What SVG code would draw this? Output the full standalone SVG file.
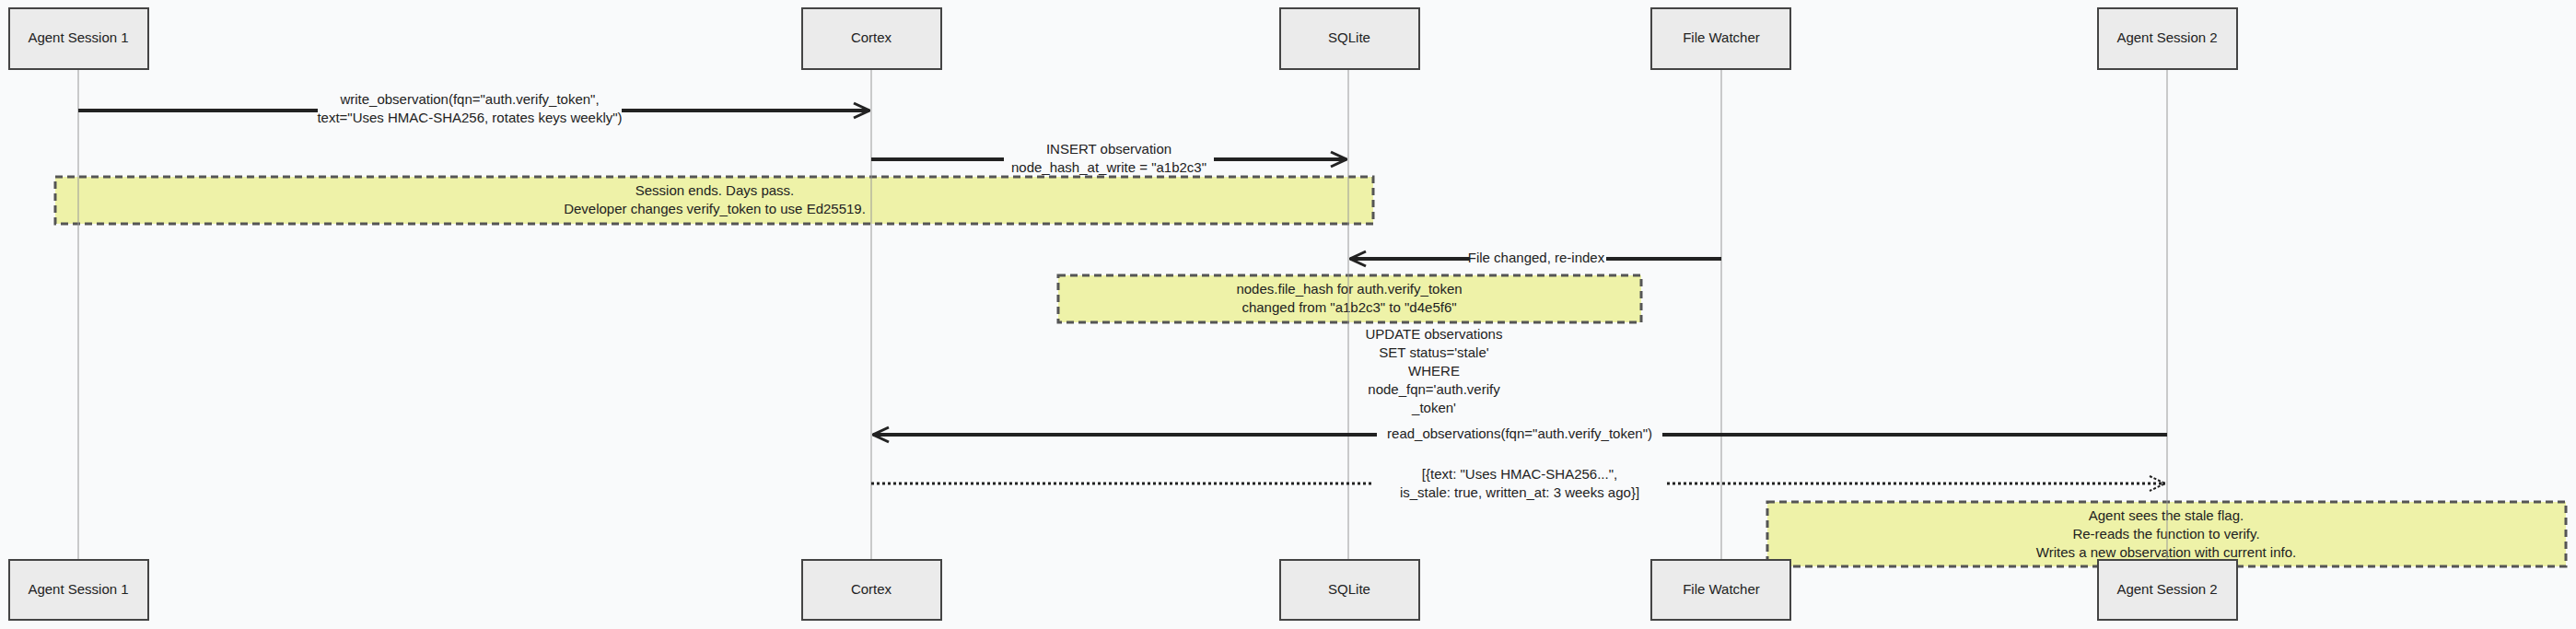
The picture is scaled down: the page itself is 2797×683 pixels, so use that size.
<svg xmlns="http://www.w3.org/2000/svg" width="2797" height="683" viewBox="0 0 2797 683">
<style>
text{font-family:"Liberation Sans",Arial,sans-serif;font-size:15px;fill:#222;text-anchor:middle;dominant-baseline:middle}
.box{fill:#ebebeb;stroke:#444;stroke-width:2}
.life{stroke:#999;stroke-width:1}
.msg{stroke:#222;stroke-width:4;fill:none}
.ret{stroke:#222;stroke-width:3;fill:none;stroke-dasharray:3 3}
.note{fill:#eef2a8;stroke:#555;stroke-width:3;stroke-dasharray:8 5}
.bg{fill:#f9fafb}
</style>
<defs>
<marker id="a" viewBox="0 0 20 20" refX="19" refY="10" markerWidth="20" markerHeight="20" markerUnits="userSpaceOnUse" orient="auto"><path d="M2 2 L19 10 L2 18" fill="none" stroke="#222" stroke-width="3"/></marker>
<marker id="o" viewBox="0 0 20 20" refX="19" refY="10" markerWidth="20" markerHeight="20" markerUnits="userSpaceOnUse" orient="auto"><path d="M2 2 L19 10 L2 18" fill="none" stroke="#222" stroke-width="2" stroke-dasharray="3 2"/></marker>
</defs>
<rect class="bg" width="2797" height="683"/>
<g id="note1"><rect class="note" x="60" y="192" width="1431" height="51"/><text x="776" y="208">Session ends. Days pass.</text><text x="776" y="228">Developer changes verify_token to use Ed25519.</text></g>
<g id="note2"><rect class="note" x="1149" y="299" width="633" height="51"/><text x="1465" y="315">nodes.file_hash for auth.verify_token</text><text x="1465" y="335">changed from "a1b2c3" to "d4e5f6"</text></g>
<g id="note3"><rect class="note" x="1919" y="545" width="867" height="70"/><text x="2352" y="561">Agent sees the stale flag.</text><text x="2352" y="581">Re-reads the function to verify.</text><text x="2352" y="601">Writes a new observation with current info.</text></g>
<g id="lifelines">
<line class="life" x1="85" y1="75" x2="85" y2="608"/>
<line class="life" x1="946" y1="75" x2="946" y2="608"/>
<line class="life" x1="1464" y1="75" x2="1464" y2="608"/>
<line class="life" x1="1869" y1="75" x2="1869" y2="608"/>
<line class="life" x1="2353" y1="75" x2="2353" y2="608"/>
</g>
<g id="agent1"><rect class="box" x="10" y="9" width="151" height="66"/><text x="85" y="42">Agent Session 1</text><rect class="box" x="10" y="608" width="151" height="65"/><text x="85" y="641">Agent Session 1</text></g>
<g id="cortex"><rect class="box" x="871" y="9" width="151" height="66"/><text x="946" y="42">Cortex</text><rect class="box" x="871" y="608" width="151" height="65"/><text x="946" y="641">Cortex</text></g>
<g id="sqlite"><rect class="box" x="1390" y="9" width="151" height="66"/><text x="1465" y="42">SQLite</text><rect class="box" x="1390" y="608" width="151" height="65"/><text x="1465" y="641">SQLite</text></g>
<g id="filewatcher"><rect class="box" x="1793" y="9" width="151" height="66"/><text x="1869" y="42">File Watcher</text><rect class="box" x="1793" y="608" width="151" height="65"/><text x="1869" y="641">File Watcher</text></g>
<g id="agent2"><rect class="box" x="2278" y="9" width="151" height="66"/><text x="2353" y="42">Agent Session 2</text><rect class="box" x="2278" y="608" width="151" height="65"/><text x="2353" y="641">Agent Session 2</text></g>
<g id="connectors">
<line class="msg" x1="85" y1="120" x2="345" y2="120"/><line class="msg" x1="675" y1="120" x2="944" y2="120" marker-end="url(#a)"/>
<text x="510" y="109">write_observation(fqn="auth.verify_token",</text>
<text x="510" y="129">text="Uses HMAC-SHA256, rotates keys weekly")</text>
<line class="msg" x1="946" y1="173" x2="1090" y2="173"/><line class="msg" x1="1318" y1="173" x2="1462" y2="173" marker-end="url(#a)"/>
<text x="1204" y="163">INSERT observation</text>
<text x="1204" y="183">node_hash_at_write = "a1b2c3"</text>
<line class="msg" x1="1869" y1="281" x2="1466" y2="281" marker-end="url(#a)"/>
<rect x="1596" y="272" width="148" height="18" fill="#f9fafb"/>
<text x="1668" y="281">File changed, re-index</text>
<text x="1557" y="364">UPDATE observations</text>
<text x="1557" y="384">SET status='stale'</text>
<text x="1557" y="404">WHERE</text>
<text x="1557" y="424">node_fqn='auth.verify</text>
<text x="1557" y="444">_token'</text>
<line class="msg" x1="2353" y1="472" x2="948" y2="472" stroke-width="3" marker-end="url(#a)"/>
<rect x="1495" y="463" width="310" height="18" fill="#f9fafb"/>
<text x="1650" y="472">read_observations(fqn="auth.verify_token")</text>
<line class="ret" x1="946" y1="525" x2="1490" y2="525"/><line class="ret" x1="1810" y1="525" x2="2351" y2="525" marker-end="url(#o)"/>
<text x="1650" y="516">[{text: "Uses HMAC-SHA256...",</text>
<text x="1650" y="536">is_stale: true, written_at: 3 weeks ago}]</text>
</g>
</svg>
